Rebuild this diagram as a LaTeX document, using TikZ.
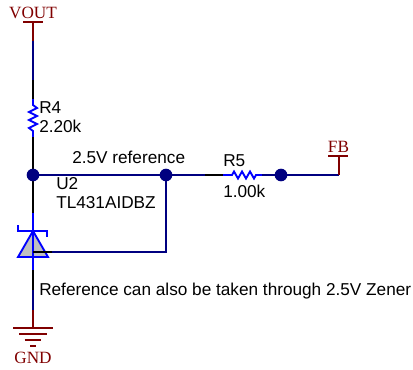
\documentclass[tikz,border=0pt]{standalone}
\usepackage{fontspec}
\setmainfont{Liberation Sans}
\newfontfamily\serifnet{Liberation Serif}
\definecolor{wire}{RGB}{0,0,128}
\definecolor{pin}{RGB}{0,0,0}
\definecolor{part}{RGB}{0,0,255}
\definecolor{power}{RGB}{128,0,0}
\definecolor{fillgray}{RGB}{192,192,192}
\tikzset{
  x=0.75pt,y=-0.75pt,
  wireline/.style={draw=wire,line width=1.4pt},
  pinline/.style={draw=pin,line width=1.4pt},
  partline/.style={draw=part,line width=1.4pt},
  powerline/.style={draw=power,line width=1.4pt},
  dotnode/.style={circle,fill=wire,inner sep=0pt,minimum size=9.5pt},
  lbl/.style={inner sep=0pt,font=\fontsize{12.9pt}{15pt}\selectfont,anchor=base west,text=black},
  netlbl/.style={inner sep=0pt,font=\serifnet\fontsize{12.9pt}{15pt}\selectfont,text=power,anchor=base}
}
\begin{document}
\begin{tikzpicture}
\useasboundingbox (0,0) rectangle (413,369);
% coordinates
\coordinate (vtop) at (33,22);
\coordinate (vw) at (33,41);
\coordinate (vp) at (33,80);
\coordinate (r4t) at (33,99);
\coordinate (r4b) at (33,137);
\coordinate (zt) at (33,213);
\coordinate (zk) at (33,231);
\coordinate (zb) at (33,270);
\coordinate (gp) at (33,290);
\coordinate (gw) at (33,310);
\coordinate (gbar) at (33,328);
\coordinate (r5a) at (205,175);
\coordinate (r5l) at (223,175);
\coordinate (r5r) at (262,175);
\coordinate (fbc) at (339,175);
\coordinate (fbt) at (339,156);
\coordinate (refc) at (166,252);
\coordinate (refp) at (52,252);
\coordinate (refs) at (33,252);
% wires
\draw[powerline] (vtop) -- (vw);
\draw[wireline] (vw) -- (vp);
\draw[pinline] (vp) -- (r4t);
\draw[partline] (r4t) -- ++(0,6) -- ++(4,3) -- ++(-8,4) -- ++(8,4) -- ++(-8,4) -- ++(8,4) -- ++(-8,4) -- ++(4,3) -- (r4b);
\draw[pinline] (r4b) -- (33,175);
\draw[wireline] (33,175) -- (r5a);
\draw[pinline] (r5a) -- (r5l);
\draw[partline] (r5l) -- ++(9,0) -- ++(2,-3.5) -- ++(4,7) -- ++(4,-7) -- ++(4,7) -- ++(4,-7) -- ++(4,7) -- ++(2,-3.5) -- (r5r);
\draw[wireline] (r5r) -- (fbc);
\draw[powerline] (fbc) -- (fbt);
\draw[powerline] (328,156) -- (348,156);
\draw[pinline] (33,175) -- (zt);
% zener
\draw[partline,fill=fillgray] (zk) -- (18,257) -- (48,257) -- cycle;
\draw[partline] (18,225) -- (18,231) -- (47,231) -- (47,237);
\draw[partline] (zt) -- (zb);
\draw[pinline] (zb) -- (gp);
\draw[wireline] (gp) -- (gw);
\draw[powerline] (gw) -- (gbar);
% reference loop
\draw[wireline] (refp) -- (refc) -- (166,175);
\draw[pinline] (refs) -- (refp);
% junctions
\node[dotnode] (j1) at (33,175) {};
\node[dotnode] (j2) at (166,175) {};
\node[dotnode] (j3) at (281,175) {};
% gnd bars and VOUT bar
\draw[powerline] (13,328) -- (53,328);
\draw[powerline] (19,334) -- (47,334);
\draw[powerline] (24.5,340) -- (41,340);
\draw[powerline] (30,346) -- (36,346);
\draw[powerline] (23,22) -- (43,22);
% labels
\node[netlbl] (vout) at (33,18) {VOUT};
\node[netlbl] (fb) at (338.5,152) {FB};
\node[netlbl] (gnd) at (33,363) {GND};
\node[lbl] (l1) at (39,113) {R4};
\node[lbl] (l2) at (39,132) {2.20k};
\node[lbl] (l3) at (72,163) {2.5V reference};
\node[lbl] (l4) at (56,189) {U2};
\node[lbl] (l5) at (56,208) {TL431AIDBZ};
\node[lbl] (l6) at (223,166) {R5};
\node[lbl] (l7) at (223,197) {1.00k};
\node[lbl] (l8) at (39,295) {Reference can also be taken through 2.5V Zener};
\end{tikzpicture}
\end{document}
